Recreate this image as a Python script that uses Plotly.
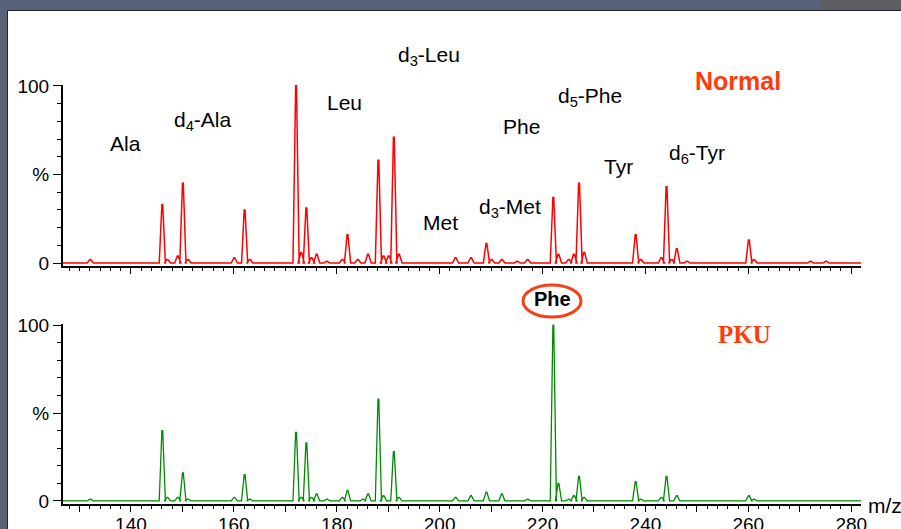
import plotly.graph_objects as go

W, H = 901, 529

# ---------------- data ----------------
mz_normal = [132.1, 146.1, 147.1, 149.1, 150.1, 151.1, 160.1, 162.1, 163.1, 172.1, 173.1, 174.1,
             175.1, 176.1, 178.1, 181.1, 182.1, 184.1, 186.1, 188.1, 189.1, 190.1, 191.1, 192.1,
             203.1, 206.1, 209.1, 210.1, 212.1, 215.1, 217.1, 222.1, 223.1, 225.1, 226.1, 227.1,
             228.1, 238.1, 239.1, 243.1, 244.1, 245.1, 246.1, 248.1, 260.1, 261.1, 272.1, 275.1]
int_normal = [2, 33, 2, 4, 45, 2, 3, 30, 2, 100, 6, 31,
              3, 5, 1, 2, 16, 2, 5, 58, 4, 4, 71, 5,
              3, 3, 11, 2, 2, 1, 2, 37, 5, 2, 5, 45,
              6, 16, 2, 3, 43, 2, 8, 1, 13, 2, 1, 1]

mz_pku = [132.1, 146.1, 147.1, 149.1, 150.1, 151.1, 160.1, 162.1, 163.1, 172.1, 173.1, 174.1,
          175.1, 176.1, 178.1, 181.1, 182.1, 185.1, 186.1, 188.1, 189.1, 191.1, 192.1,
          203.1, 206.1, 209.1, 212.1, 217.1, 222.1, 223.1, 225.1, 226.1, 227.1, 228.1,
          238.1, 239.1, 243.1, 244.1, 246.1, 260.1, 261.1]
int_pku = [1, 40, 2, 2, 16, 1, 2, 15, 1, 39, 2, 33,
           2, 4, 1, 2, 6, 1, 4, 58, 3, 28, 2,
           2, 3, 5, 4, 1, 100, 10, 1, 3, 14, 2,
           11, 1, 2, 14, 3, 3, 1]

x_tick_values = [130, 140, 150, 160, 170, 180, 190, 200, 210, 220, 230, 240, 250, 260, 270, 280]
x_tick_labels = ["", "140", "", "160", "", "180", "", "200", "", "220", "", "240", "", "260", "", "280"]
y_tick_values = [0, 50, 100]
y_tick_labels = ["0", "%", "100"]

peak_names = ["Ala", "d<sub>4</sub>-Ala", "Leu", "d<sub>3</sub>-Leu", "Met", "d<sub>3</sub>-Met",
              "Phe", "d<sub>5</sub>-Phe", "Tyr", "d<sub>6</sub>-Tyr"]

X_MIN, X_MAX = 126.8, 281.9
Y_MIN, Y_MAX = -1.5, 100.6


def px(x):
    return x / W


def py(y):
    return 1 - y / H


def profile(mz, inten, half_width=0.6):
    xs, ys = [X_MIN], [0]
    for m, h in sorted(zip(mz, inten)):
        xs += [m - half_width, m - 0.08, m + 0.08, m + half_width]
        ys += [0, h, h, 0]
    xs.append(X_MAX)
    ys.append(0)
    return xs, ys


fig = go.Figure()
xn, yn = profile(mz_normal, int_normal)
xp, yp = profile(mz_pku, int_pku)
fig.add_trace(go.Scatter(x=xn, y=yn, mode="lines", line=dict(color="#ff0000", width=1.5),
                         xaxis="x", yaxis="y", hoverinfo="skip", showlegend=False))
fig.add_trace(go.Scatter(x=xp, y=yp, mode="lines", line=dict(color="#008a00", width=1.3),
                         xaxis="x2", yaxis="y2", hoverinfo="skip", showlegend=False))

FONT = "Liberation Sans, Arial, sans-serif"
x_dom = [px(63), px(861)]

xaxis_common = dict(range=[X_MIN, X_MAX], domain=x_dom, showgrid=False, zeroline=False,
                    showline=True, linecolor="black", linewidth=2, automargin=False,
                    ticks="outside", ticklen=6, tickwidth=1, tickcolor="black",
                    tickmode="array", tickvals=x_tick_values, ticktext=x_tick_labels,
                    minor=dict(ticks="outside", dtick=2, tick0=0, ticklen=3, tickcolor="black", tickwidth=1),
                    tickfont=dict(family=FONT, size=19, color="black"), fixedrange=True)
yaxis_common = dict(range=[Y_MIN, Y_MAX], showgrid=False, zeroline=False,
                    showline=True, linecolor="black", linewidth=2, automargin=False,
                    ticks="outside", ticklen=8, tickwidth=1, tickcolor="black",
                    tickmode="array", tickvals=y_tick_values, ticktext=y_tick_labels,
                    minor=dict(ticks="outside", dtick=10, tick0=0, ticklen=4, tickcolor="black", tickwidth=1),
                    tickfont=dict(family=FONT, size=19, color="black"), fixedrange=True)

fig.update_layout(
    template="none",
    width=W, height=H, margin=dict(l=0, r=0, t=0, b=0, pad=0, autoexpand=False),
    paper_bgcolor="#59617a", plot_bgcolor="white",
    xaxis=dict(xaxis_common, anchor="y", showticklabels=False),
    yaxis=dict(yaxis_common, anchor="x", domain=[py(265.7), py(84.8)]),
    xaxis2=dict(xaxis_common, anchor="y2", ticklabelstandoff=-3),
    yaxis2=dict(yaxis_common, anchor="x2", domain=[py(503.6), py(324.2)]),
)

shapes = [
    dict(type="rect", xref="paper", yref="paper", x0=px(7), x1=1, y0=0, y1=py(10),
         fillcolor="#1f232b", line=dict(width=0), layer="below"),
    dict(type="path", xref="paper", yref="paper",
         path=f"M {px(820)} 1 L 1 1 L 1 {py(10)} L {px(823)} {py(10)} Z",
         fillcolor="#5e5f65", line=dict(width=0), layer="below"),
    dict(type="rect", xref="paper", yref="paper", x0=px(8), x1=1, y0=0, y1=py(11),
         fillcolor="white", line=dict(width=0), layer="below"),
    dict(type="circle", xref="paper", yref="paper", x0=px(523), x1=px(581), y0=py(317), y1=py(285),
         line=dict(color="#f5401c", width=3), fillcolor="rgba(0,0,0,0)"),
]
fig.update_layout(shapes=shapes)

label_pos = [(125.5, 143), (202.5, 121), (344, 103), (429, 56), (440, 222), (509.5, 208),
             (521, 126), (590, 97), (618, 166), (696.5, 154)]
annotations = []
for name, (lx, ly) in zip(peak_names, label_pos):
    annotations.append(dict(x=px(lx), y=py(ly), xref="paper", yref="paper", text=name,
                            showarrow=False, xanchor="center", yanchor="middle",
                            font=dict(family=FONT, size=21, color="black")))
annotations += [
    dict(x=px(738), y=py(81), xref="paper", yref="paper", text="<b>Normal</b>", showarrow=False,
         xanchor="center", yanchor="middle", font=dict(family=FONT, size=25, color="#ff3c0a")),
    dict(x=px(744), y=py(334), xref="paper", yref="paper", text="<b>PKU</b>", showarrow=False,
         xanchor="center", yanchor="middle",
         font=dict(family="Liberation Serif, Times New Roman, serif", size=25, color="#ff3c0a")),
    dict(x=px(552), y=py(299), xref="paper", yref="paper", text="<b>Phe</b>", showarrow=False,
         xanchor="center", yanchor="middle", font=dict(family=FONT, size=20, color="black")),
    dict(x=px(866), y=py(505), xref="paper", yref="paper", text="m/z", showarrow=False,
         xanchor="left", yanchor="middle", font=dict(family=FONT, size=21, color="black")),
]
fig.update_layout(annotations=annotations)

fig.write_html("out.html", config={"displayModeBar": False})
